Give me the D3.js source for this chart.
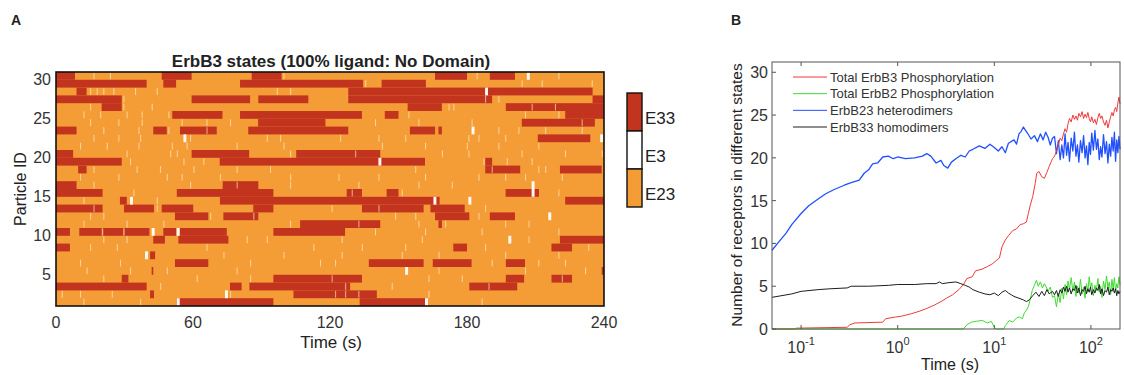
<!DOCTYPE html>
<html><head><meta charset="utf-8">
<script src="https://cdn.jsdelivr.net/npm/d3@7"></script>
<style>
body{margin:0;background:#fff}
svg{display:block;font-family:"Liberation Sans",Arial,Helvetica,sans-serif}
</style>
</head><body>
<svg id="chart" width="1124" height="375"></svg>
<script>
// ---------------- Panel A data ----------------
const stateLabels = ["E33", "E3", "E23"];
const stateColors = ["#c2341e", "#ffffff", "#f49c36"];
const timeTicksA = [0, 60, 120, 180, 240];
const particleTicks = [5, 10, 15, 20, 25, 30];
const particles = d3.range(1, 31);
// E33 (homodimer) intervals [start, end] in seconds, index 0 = particle 1
const e33Intervals = [
  [[52.9,95.2],[133,162.4]],
  [[41.2,42.9],[104,140.5]],
  [[0,39.7],[76.2,81.3],[84.7,128.8],[181,202]],
  [[28.8,31.7],[95.2,134],[197,205],[217,226]],
  [[41.9,42.6],[239,240]],
  [[52.1,66.7],[137,161],[165,182],[197,205.4]],
  [[41.2,43.4]],
  [[0,6.1],[174,180],[217,226]],
  [[42.6,47.7],[53.6,75.5],[220.7,240]],
  [[0,6.1],[10.2,20],[20.4,29.5],[29.8,40.9],[47,52.6],[53.6,74.8],[95.2,126.6]],
  [[106.9,142],[167.5,169]],
  [[52.1,66.7],[73.3,88.6],[166,181],[190,201]],
  [[0,20.4],[29.8,42.9],[46.3,60.1],[86.4,95.2],[134,161],[164,179]],
  [[28,31],[71.8,168],[223,240]],
  [[0,20.4],[52.9,95.2],[127.3,134],[144.8,150],[196.9,211.5]],
  [[0,9],[73,88.6]],
  [],
  [[9.7,13.4],[188,203.3],[220.7,239]],
  [[0,28.8],[71.7,161.6],[188,191]],
  [[0,7.5],[59.4,84.6],[105.2,142]],
  [],
  [[211,234]],
  [[0,9],[42.6,48.5],[54.3,70.4],[84.2,128],[155,166],[167.5,169]],
  [[88.5,118],[204,236]],
  [[50.9,72.9],[80.6,134],[144,150],[223,240]],
  [[20,28.8],[154,169],[197,240]],
  [[0,28.8],[59.4,85],[88.6,110.5],[128,191],[235,240]],
  [[9,13.4],[128,235]],
  [[0,39.7],[47,52.6],[80.6,134.5],[142.6,162]],
  [[0,8.3],[46.3,59.4],[85.7,98.8],[166,180],[190,201]]
];
// short E3 (monomer) flickers, times in s, index 0 = particle 1
const e3Flickers = [
  [12,36.8,186.4],
  [2.5,10.5,24.4,76.2,122.2,126.6,132.4,163.1],
  [45.6,126.6,147,189.4],
  [20.7,61.6,85,120.7,163.1,177.7,221.5],
  [13.4,32.4,48.5,79.1,167.5,205.4,231.7],
  [10.5,28,85,115.6,122.2,190.8,211.2,222.9],
  [73.3,99.6,125.1,151.4,167.5,196.7,220],
  [14.9,26.6,65.9,112.7,133.9,152.9,187.9,233.1],
  [20.7,30.9,83.5,92.3,125.1,160.2,206.9],
  [20.2,29.6,139.7,161.6,186.4,220],
  [12,30.9,47,102.5,132.4,158.7,170.4,196.7,206.9],
  [14.9,20.7,67.5,86.4,148.5,157.3,185],
  [16.4,44.1,120.7,141.2,187.9],
  [12,44.1],
  [33.9,129.5,151.4,220],
  [16.4,58.7,79.1,102.5,132.4,158.7,173.3],
  [10.5,27.3,48.5,55,71.8,102.5,123.7,141.2,161.6,185,196.7,205.4,221.5],
  [16.4,35.3,45.5,60.2,79.1,93.7,157.3,190.8,211.2,214.2],
  [32.4,55.8,64.5,187.2,197.4,208.3],
  [30.9,50,52.9,102.5,131,169,180.6,203.9,222.9,239],
  [10.5,22.2,36.1,50.7,57.2,79.1,99.6,142.7,161.6,179.9,193.7,211.2],
  [16.4,27.3,36.8,58.7,92.3,98.1,124.4,141.2,152.9,180.6,185,196.7],
  [20.7,36.1,49.2,65.9,193.7,202.5,214.2,230.2],
  [14.9,27.3,37.5,55,65.9,76.2,139.7,158.7,182,230.2],
  [12,19.3,30.9,37.5,49.2,154.3,205.4,220],
  [14.9,29.5,41.9,171.9,174,208.3,218.5],
  [29.5,187.9,193.7],
  [14.9,17.8,20.7,25.1,34.6,44.1,96.7,102.5],
  [135.4,203.9,212.7,234.6],
  [16.4,23.6,99.6,184.2,220]
];
// longer E3 visits [particle, time]
const e3Blocks = [[30,206.2],[28,187.9],[23,182],[22,55.8],[22,238.3],[19,141.2],[16,208.3],
  [15,208.3],[14,32.4],[14,165.3],[14,180.6],[12,215.6],[10,41.9],[10,52.9],[9,198.1],
  [7,39],[5,152.9],[2,74],[1,52.9],[1,161.6]];

// ---------------- Panel B data ----------------
const seriesNames = ["Total ErbB3 Phosphorylation","Total ErbB2 Phosphorylation","ErbB23 heterodimers","ErbB33 homodimers"];
const seriesColors = ["#f03a3a","#3ddc2c","#2050ff","#1e1e1e"];
const yTicksB = [0,5,10,15,20,25,30];
const xTicksB = [0.1,1,10,100];
const xTickExp = ["-1","0","1","2"];
const b3Head = [[0.05,0],[0.085,0],[0.09,0.1],[0.3,0.2],[0.32,0.5],[0.36,0.7],[0.7,0.8],[0.75,1.2],[0.95,1.4],[1.1,1.5],[1.4,1.8],[1.7,2.1],[2.0,2.4],[2.4,2.8],[2.8,3.2],[3.2,3.6],[3.7,4.0],[4.3,4.6],[4.8,5.2],[5.2,5.9],[5.9,6.1],[6.4,6.8],[7.5,7.0],[8.5,7.3],[9.5,7.6],[10.5,8.0],[11.3,8.3],[12,9.6],[13,10.4],[14,10.9],[15.5,11.5],[17,11.7],[18.5,12.2],[20,12.3],[21.5,12.5],[22.5,13.5],[23.5,14.4],[25,15.5],[26.5,17.0],[27.5,18.2],[29,18.4],[31,17.8],[33,17.6],[35,18.3],[37,19.0],[39,19.6],[40,19.9]];
const b2Head = [[0.05,0],[4.8,0],[5.2,0.5],[5.8,0.8],[6.5,0.9],[7.5,1.0],[8.5,0.7],[9.3,0.9],[10,0.2],[10.5,0],[12.5,0],[13,0.4],[14.3,1.0],[15.5,0.8],[17,1.3],[18.2,1.4],[19.5,1.2],[20.5,1.9],[21.5,2.2],[22.5,2.6],[23.5,3.4],[24.7,4.5],[26,5.1],[27.3,5.7],[28.5,5.0],[30,5.5],[31.5,4.8],[33,5.3],[34.5,4.9],[36,4.4],[38,4.9],[40,3.7]];
const b23Head = [[0.05,9.2],[0.06,10.3],[0.07,11.2],[0.08,12.2],[0.1,13.5],[0.12,14.4],[0.15,15.2],[0.18,15.8],[0.22,16.3],[0.28,16.8],[0.33,17.1],[0.4,17.4],[0.45,18.2],[0.5,18.6],[0.55,19.3],[0.62,19.4],[0.7,20.1],[0.8,20.2],[0.9,19.9],[1.0,20.1],[1.2,19.9],[1.5,20.0],[1.8,20.2],[2.0,20.5],[2.2,20.2],[2.5,19.4],[2.8,19.7],[3.0,19.1],[3.3,18.8],[3.6,19.5],[4.0,19.9],[4.5,20.3],[5.0,20.1],[5.5,20.8],[6.0,21.0],[7.0,21.4],[8.0,21.1],[9,21.6],[10,21.2],[11,20.8],[12,21.3],[13,20.6],[14,21.7],[16,22.1],[17,21.6],[18,22.8],[19,23.1],[20,23.6],[22,22.9],[24,22.2],[26,22.6],[28,21.9],[30,22.8],[32,22.1],[34,23],[36,22.4],[38,21.5],[40,22.3]];
const b33Head = [[0.05,3.7],[0.08,4.1],[0.1,4.4],[0.15,4.6],[0.2,4.7],[0.3,4.8],[0.33,5.0],[0.5,5.0],[0.8,5.1],[1.0,5.2],[1.5,5.2],[2.0,5.3],[2.5,5.3],[2.7,5.5],[2.9,5.3],[3.3,5.4],[4.0,5.5],[4.5,5.3],[5.0,5.1],[5.5,4.9],[6.0,4.6],[7.0,4.3],[8.0,4.1],[9.0,4.0],[10,4.2],[11,3.9],[12,4.3],[13,4.5],[14,4.2],[15,4.0],[16,3.8],[18,3.6],[20,3.4],[21.5,3.2],[23,3.4],[25,3.9],[27,4.3],[29,3.8],[31,4.4],[33,3.9],[35,4.6],[37,4.1],[40,4.4]];
const tailTimes = [42,44,46,48,50,52,54,56,58,60,62.5,65,67.5,70,72.5,75,78,81,84,87,90,93,96,99,102,106,110,114,118,122,126,130,135,140,145,150,155,160,165,170,175,180,185,190,195,200];
const b3Tail = [20.2,20.8,21.5,22.3,22.0,22.8,23.4,23.0,24.0,24.6,24.2,25.0,24.5,24.9,24.4,25.2,24.8,25.4,24.6,25.1,24.7,25.3,24.6,24.2,24.8,24.1,24.5,23.9,24.7,25.2,24.6,24.9,24.2,23.8,24.4,23.5,24.2,24.8,25.3,24.9,25.6,25.9,25.4,26.4,27.1,26.3];
const b2Tail = [3.9,2.6,4.2,3.1,4.8,3.5,5.2,4.0,5.6,4.6,6.0,4.4,5.5,3.8,5.0,4.2,5.8,4.1,4.9,3.6,5.3,4.4,6.1,4.8,5.4,3.9,5.1,4.5,5.9,4.3,5.0,3.7,5.6,4.6,6.2,4.9,5.5,4.0,5.8,4.7,6.0,4.4,5.3,4.8,6.1,5.2];
const b23Tail = [22.5,20.5,22,19.8,21.5,20,22.8,20.3,21.8,19.6,22.3,20.8,23,20.2,21.5,19.5,22,20.6,22.6,20,21.4,19.2,21.8,20.4,22.9,20.9,23.2,21,22.2,19.8,21.3,20.1,22.7,20.5,21.9,19.4,21.6,20.2,22.4,20.8,23,19.6,22.1,20.6,22.5,21];
const b33Tail = [4.0,4.5,3.8,4.6,4.2,4.9,4.4,5.0,4.3,4.8,4.1,4.7,4.5,5.1,4.2,4.8,3.9,4.6,4.4,5.0,4.1,4.7,4.3,4.9,4.0,4.6,4.2,4.8,4.5,5.2,4.1,4.7,3.9,4.5,4.3,4.9,4.0,4.6,4.4,4.8,4.2,4.7,3.9,4.5,4.1,4.4];

// ---------------- Drawing ----------------
const svg = d3.select("#chart");
const txt = "#222";

// Panel letters
svg.append("text").attr("x", 11).attr("y", 25).attr("font-weight", "bold").attr("font-size", 14).attr("fill", txt).text("A");
svg.append("text").attr("x", 731).attr("y", 25).attr("font-weight", "bold").attr("font-size", 14).attr("fill", txt).text("B");

// ---- Panel A ----
const xA = d3.scaleLinear().domain([0, 240]).range([56, 604]);
const yA = d3.scaleLinear().domain([1, 31]).range([306, 72]);
const gA = svg.append("g");

gA.selectAll("rect.base").data(particles).join("rect")
  .attr("x", xA(0)).attr("width", xA(240) - xA(0))
  .attr("y", p => yA(p + 1)).attr("height", p => yA(p) - yA(p + 1))
  .attr("fill", stateColors[2]).attr("shape-rendering", "crispEdges");

const e33Flat = [];
e33Intervals.forEach((iv, i) => iv.forEach(([a, b]) => e33Flat.push({p: i + 1, a, b})));
gA.selectAll("rect.e33").data(e33Flat).join("rect")
  .attr("x", d => xA(d.a)).attr("width", d => xA(d.b) - xA(d.a))
  .attr("y", d => yA(d.p + 1)).attr("height", d => yA(d.p) - yA(d.p + 1))
  .attr("fill", stateColors[0]);

const flickFlat = [];
e3Flickers.forEach((ts, i) => ts.forEach(t => flickFlat.push({p: i + 1, t})));
gA.selectAll("rect.fl").data(flickFlat).join("rect")
  .attr("x", d => xA(d.t)).attr("width", 1.1)
  .attr("y", d => yA(d.p + 1) + 0.5).attr("height", d => yA(d.p) - yA(d.p + 1) - 1)
  .attr("fill", "#fff3d0").attr("opacity", 0.6);
gA.selectAll("rect.bl").data(e3Blocks).join("rect")
  .attr("x", d => xA(d[1])).attr("width", d => xA(d[1] + 1.3) - xA(d[1]))
  .attr("y", d => yA(d[0] + 1)).attr("height", d => yA(d[0]) - yA(d[0] + 1))
  .attr("fill", stateColors[1]).attr("opacity", 0.95);

gA.append("rect").attr("x", 56).attr("y", 72).attr("width", 548).attr("height", 234)
  .attr("fill", "none").attr("stroke", "#111").attr("stroke-width", 1.6);

gA.selectAll("text.yt").data(particleTicks).join("text")
  .attr("x", 51).attr("y", d => yA(d) + 5.5).attr("text-anchor", "end")
  .attr("font-size", 16).attr("fill", "#333").text(d => d);
gA.selectAll("text.xt").data(timeTicksA).join("text")
  .attr("x", d => xA(d)).attr("y", 328).attr("text-anchor", "middle")
  .attr("font-size", 16).attr("fill", "#333").text(d => d);
gA.append("text").attr("x", 331).attr("y", 348).attr("text-anchor", "middle")
  .attr("font-size", 17).attr("fill", txt).text("Time (s)");
gA.append("text").attr("transform", "translate(26,189) rotate(-90)").attr("text-anchor", "middle")
  .attr("font-size", 16).attr("fill", txt).text("Particle ID");
gA.append("text").attr("x", 331).attr("y", 67).attr("text-anchor", "middle")
  .attr("font-size", 17).attr("font-weight", "bold").attr("fill", txt)
  .text("ErbB3 states (100% ligand: No Domain)");

// colorbar legend
const cb = d3.scaleBand().domain(stateLabels).range([93, 207]);
gA.selectAll("rect.cb").data(stateLabels).join("rect")
  .attr("x", 627).attr("width", 15).attr("y", d => cb(d)).attr("height", cb.bandwidth())
  .attr("fill", (d, i) => stateColors[i]).attr("stroke", "#111").attr("stroke-width", 1.4);
gA.selectAll("text.cb").data(stateLabels).join("text")
  .attr("x", 645).attr("y", d => cb(d) + cb.bandwidth() / 2 + 12)
  .attr("font-size", 17).attr("fill", txt).text(d => d);

// ---- Panel B ----
const xB = d3.scaleLog().domain([0.05, 200]).range([772, 1120]);
const yB = d3.scaleLinear().domain([0, 31.2]).range([329, 62]);
const gB = svg.append("g");
const tailPairs = vals => tailTimes.map((t, i) => [t, vals[i]]);
const seriesData = [
  b3Head.concat(tailPairs(b3Tail)),
  b2Head.concat(tailPairs(b2Tail)),
  b23Head.concat(tailPairs(b23Tail)),
  b33Head.concat(tailPairs(b33Tail))
];
const line = d3.line().x(d => xB(d[0])).y(d => yB(d[1]));
const drawOrder = [2, 0, 1, 3];
gB.selectAll("path.s").data(drawOrder).join("path")
  .attr("d", i => line(seriesData[i])).attr("fill", "none")
  .attr("stroke", i => seriesColors[i]).attr("stroke-width", i => i === 2 ? 1.3 : 1)
  .attr("stroke-linejoin", "round");

// axes box and ticks
gB.append("rect").attr("x", 772).attr("y", 62).attr("width", 348).attr("height", 267)
  .attr("fill", "none").attr("stroke", "#555").attr("stroke-width", 1);
gB.selectAll("line.yt").data(yTicksB).join("line")
  .attr("x1", 772).attr("x2", 776).attr("y1", d => yB(d)).attr("y2", d => yB(d)).attr("stroke", "#555");
gB.selectAll("line.xt").data(xTicksB).join("line")
  .attr("x1", d => xB(d)).attr("x2", d => xB(d)).attr("y1", 329).attr("y2", 325).attr("stroke", "#555");
gB.selectAll("line.xtt").data(xTicksB).join("line")
  .attr("x1", d => xB(d)).attr("x2", d => xB(d)).attr("y1", 62).attr("y2", 66).attr("stroke", "#555");
gB.selectAll("text.yt").data(yTicksB).join("text")
  .attr("x", 768).attr("y", d => yB(d) + 6).attr("text-anchor", "end")
  .attr("font-size", 16).attr("fill", "#333").text(d => d);
const xl = gB.selectAll("text.xt").data(xTicksB).join("text")
  .attr("x", d => xB(d)).attr("y", 353).attr("text-anchor", "middle")
  .attr("font-size", 16).attr("fill", "#333");
xl.append("tspan").text("10");
xl.append("tspan").attr("dy", -8).attr("font-size", 11).text((d, i) => xTickExp[i]);
gB.append("text").attr("x", 950).attr("y", 370).attr("text-anchor", "middle")
  .attr("font-size", 16).attr("fill", txt).text("Time (s)");
gB.append("text").attr("transform", "translate(742,195) rotate(-90)").attr("text-anchor", "middle")
  .attr("font-size", 15.5).attr("fill", txt).text("Number of receptors in different states");

// legend
const legY = d3.scalePoint().domain(d3.range(4)).range([77, 127]);
gB.selectAll("line.lg").data(d3.range(4)).join("line")
  .attr("x1", 793).attr("x2", 827).attr("y1", i => legY(i)).attr("y2", i => legY(i))
  .attr("stroke", i => seriesColors[i]).attr("stroke-width", 1);
gB.selectAll("text.lg").data(d3.range(4)).join("text")
  .attr("x", 830).attr("y", i => legY(i) + 4.5).attr("font-size", 13).attr("fill", "#333")
  .text(i => seriesNames[i]);
</script>
</body></html>
